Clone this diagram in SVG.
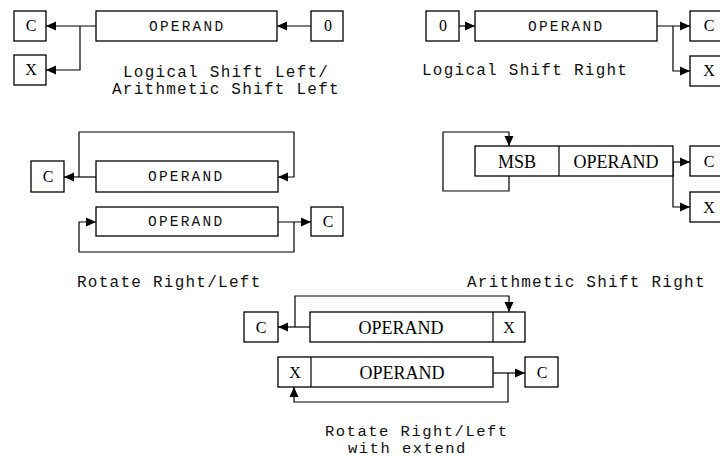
<svg xmlns="http://www.w3.org/2000/svg" width="720" height="457" viewBox="0 0 720 457">
  <style>
    .box { fill: #fff; stroke: #000; stroke-width: 1.3; }
    .wire { fill: none; stroke: #000; stroke-width: 1.2; }
    .arr { marker-end: url(#head); }
    .reg { font-family: "Liberation Serif", "Times New Roman", serif; font-size: 18px; fill: #000; text-anchor: middle; }
    .flag { font-size: 16px; }
    .mono { font-family: "Liberation Mono", "Courier New", monospace; font-size: 14.5px; letter-spacing: 2.2px; fill: #111; }
    .cap { font-family: "Liberation Mono", "Courier New", monospace; font-size: 16px; letter-spacing: 1.25px; fill: #111; }
  </style>
  <defs>
    <marker id="head" markerUnits="userSpaceOnUse" markerWidth="10" markerHeight="10" refX="10" refY="5" orient="auto">
      <path d="M0,0.5 L10,5 L0,9.5 Z" fill="#000"/>
    </marker>
  </defs>
  <rect width="720" height="457" fill="#fff"/>

  <!-- connectors -->
  <g id="connectors">
    <!-- logical / arithmetic shift left -->
    <path class="wire arr" d="M311,26 H277"/>
    <path class="wire arr" d="M96,26 H46"/>
    <path class="wire arr" d="M80,26 V70 H46"/>
    <!-- logical shift right -->
    <path class="wire arr" d="M459,26 H475"/>
    <path class="wire arr" d="M657,26 H690"/>
    <path class="wire arr" d="M673,26 V71 H690"/>
    <!-- rotate left -->
    <path class="wire arr" d="M96,177 H64"/>
    <path class="wire arr" d="M79,177 V132 H294 V177 H278"/>
    <!-- rotate right -->
    <path class="wire arr" d="M278,222 H311"/>
    <path class="wire arr" d="M294,222 V252 H79 V222 H96"/>
    <!-- arithmetic shift right -->
    <path class="wire arr" d="M673,162 H690"/>
    <path class="wire arr" d="M673,162 V207 H690"/>
    <path class="wire arr" d="M509,176 V191 H443 V132 H509 V146"/>
    <!-- rotate left with extend -->
    <path class="wire arr" d="M310,327 H278"/>
    <path class="wire arr" d="M295,327 V296 H509 V312"/>
    <!-- rotate right with extend -->
    <path class="wire arr" d="M493,373 H525"/>
    <path class="wire arr" d="M508,373 V402 H294 V387"/>
  </g>

  <!-- logical / arithmetic shift left -->
  <g id="lsl-c"><rect class="box" x="14" y="11" width="32" height="30"/><text class="reg flag" x="31" y="31">C</text></g>
  <g id="lsl-x"><rect class="box" x="14" y="55" width="32" height="30"/><text class="reg flag" x="31" y="75">X</text></g>
  <g id="lsl-operand"><rect class="box" x="96" y="11" width="181" height="30"/><text class="mono" x="149" y="31">OPERAND</text></g>
  <g id="lsl-zero"><rect class="box" x="311" y="11" width="32" height="30"/><text class="reg flag" x="328" y="31">0</text></g>
  <g id="lsl-caption">
    <text class="cap" x="123" y="77">Logical Shift Left/</text>
    <text class="cap" x="112" y="94">Arithmetic Shift Left</text>
  </g>

  <!-- logical shift right -->
  <g id="lsr-zero"><rect class="box" x="426" y="11" width="33" height="30"/><text class="reg flag" x="443" y="31">0</text></g>
  <g id="lsr-operand"><rect class="box" x="475" y="11" width="182" height="30"/><text class="mono" x="528" y="31">OPERAND</text></g>
  <g id="lsr-c"><rect class="box" x="690" y="11" width="34" height="30"/><text class="reg flag" x="709" y="31">C</text></g>
  <g id="lsr-x"><rect class="box" x="690" y="56" width="34" height="30"/><text class="reg flag" x="709" y="76">X</text></g>
  <g id="lsr-caption"><text class="cap" x="422" y="75">Logical Shift Right</text></g>

  <!-- rotate left / right -->
  <g id="rol-c"><rect class="box" x="31" y="161" width="33" height="31"/><text class="reg flag" x="48" y="182">C</text></g>
  <g id="rol-operand"><rect class="box" x="96" y="161" width="182" height="31"/><text class="mono" x="148" y="181">OPERAND</text></g>
  <g id="ror-operand"><rect class="box" x="96" y="207" width="182" height="29"/><text class="mono" x="148" y="226">OPERAND</text></g>
  <g id="ror-c"><rect class="box" x="311" y="207" width="32" height="29"/><text class="reg flag" x="328" y="227">C</text></g>
  <g id="rot-caption"><text class="cap" x="77" y="287">Rotate Right/Left</text></g>

  <!-- arithmetic shift right -->
  <g id="asr-operand">
    <rect class="box" x="475" y="146" width="198" height="30"/>
    <line class="wire" x1="559" y1="146" x2="559" y2="176"/>
    <text class="reg" x="517" y="168">MSB</text>
    <text class="reg" x="616" y="168">OPERAND</text>
  </g>
  <g id="asr-c"><rect class="box" x="690" y="146" width="34" height="30"/><text class="reg flag" x="709" y="167">C</text></g>
  <g id="asr-x"><rect class="box" x="690" y="192" width="34" height="30"/><text class="reg flag" x="709" y="213">X</text></g>
  <g id="asr-caption"><text class="cap" x="467" y="287">Arithmetic Shift Right</text></g>

  <!-- rotate left / right with extend -->
  <g id="roxl-c"><rect class="box" x="244" y="312" width="34" height="30"/><text class="reg flag" x="261" y="333">C</text></g>
  <g id="roxl-operand">
    <rect class="box" x="310" y="312" width="215" height="30"/>
    <line class="wire" x1="493" y1="312" x2="493" y2="342"/>
    <text class="reg" x="401" y="334">OPERAND</text>
    <text class="reg flag" x="509" y="333">X</text>
  </g>
  <g id="roxr-operand">
    <rect class="box" x="278" y="357" width="215" height="30"/>
    <line class="wire" x1="311" y1="357" x2="311" y2="387"/>
    <text class="reg flag" x="295" y="378">X</text>
    <text class="reg" x="402" y="379">OPERAND</text>
  </g>
  <g id="roxr-c"><rect class="box" x="525" y="357" width="33" height="30"/><text class="reg flag" x="542" y="378">C</text></g>
  <g id="rox-caption">
    <text class="cap" x="325" y="436" style="font-size:15.5px;letter-spacing:1.5px">Rotate Right/Left</text>
    <text class="cap" x="348" y="453" style="font-size:15.5px;letter-spacing:1.5px">with extend</text>
  </g>
</svg>
